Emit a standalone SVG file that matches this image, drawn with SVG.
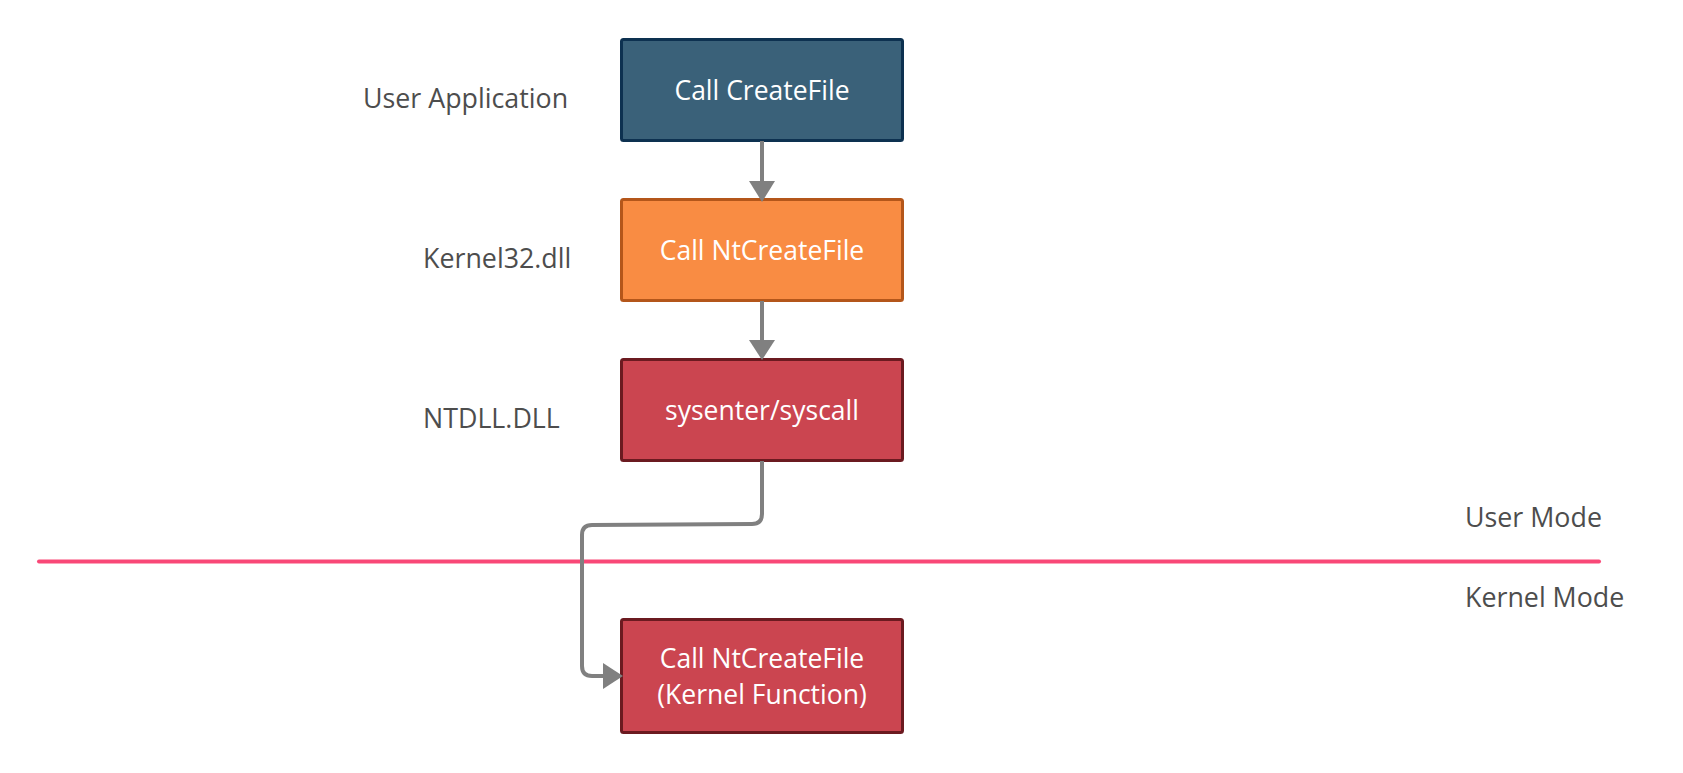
<svg xmlns="http://www.w3.org/2000/svg" width="1683" height="773" viewBox="0 0 1683 773">
<defs>
<style>
.lbl{font-family:"Open Sans","Noto Sans",sans-serif;font-size:26.8px;fill:#4d4d4d}
.bt{font-family:"Open Sans","Noto Sans",sans-serif;font-size:26.5px;font-weight:500;fill:#ffffff;text-anchor:middle}
.conn{fill:none;stroke:#808080;stroke-width:4;stroke-linejoin:round}
.head{fill:#808080}
</style>
</defs>
<rect width="1683" height="773" fill="#ffffff"/>
<g id="labels">
<text class="lbl" x="363" y="108">User Application</text>
<text class="lbl" x="423" y="268">Kernel32.dll</text>
<text class="lbl" x="423" y="428">NTDLL.DLL</text>
<text class="lbl" x="1465" y="527">User Mode</text>
<text class="lbl" x="1465" y="607">Kernel Mode</text>
</g>
<g id="divider">
<line x1="39" y1="561.5" x2="1599" y2="561.5" stroke="#f94877" stroke-width="4" stroke-linecap="round"/>
</g>
<g id="node-createfile">
<rect x="621.5" y="39.5" width="281" height="101" rx="2" fill="#3a6179" stroke="#0d3150" stroke-width="3"/>
<text class="bt" x="762" y="100">Call CreateFile</text>
</g>
<g id="node-ntcreatefile">
<rect x="621.5" y="199.5" width="281" height="101" rx="2" fill="#f98c43" stroke="#b4561a" stroke-width="3"/>
<text class="bt" x="762" y="260">Call NtCreateFile</text>
</g>
<g id="node-sysenter">
<rect x="621.5" y="359.5" width="281" height="101" rx="2" fill="#cb4550" stroke="#6b1a20" stroke-width="3"/>
<text class="bt" x="762" y="420">sysenter/syscall</text>
</g>
<g id="node-kernel">
<rect x="621.5" y="619.5" width="281" height="113" rx="2" fill="#cb4550" stroke="#6b1a20" stroke-width="3"/>
<text class="bt" x="762" y="668">Call NtCreateFile</text>
<text class="bt" x="762" y="704">(Kernel Function)</text>
</g>
<g id="connectors">
<path class="conn" d="M762 141 V182"/>
<polygon class="head" points="749,181 775,181 762,202"/>
<path class="conn" d="M762 301 V341"/>
<polygon class="head" points="749,340 775,340 762,360"/>
<path class="conn" d="M762 461 V514 Q762 524 752 524 L592 525 Q582 525 582 535 V666 Q582 676 592 676 H604"/>
<polygon class="head" points="603,663 603,689 623,676"/>
</g>
</svg>
